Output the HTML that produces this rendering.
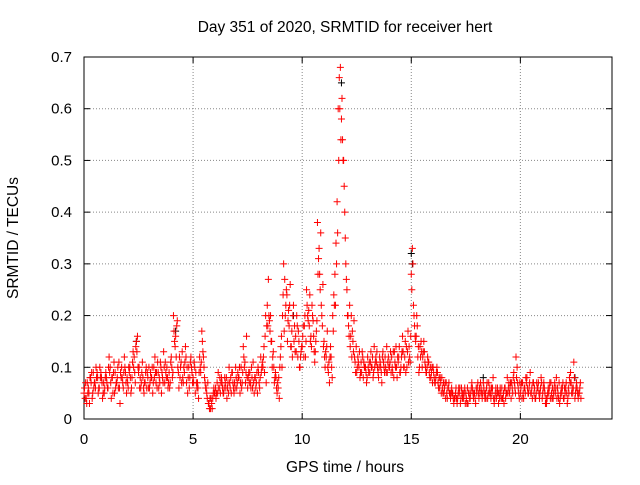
<!DOCTYPE html>
<html><head><meta charset="utf-8"><style>
body{margin:0;background:#fff}
svg{font-family:"Liberation Sans",sans-serif;font-size:15.5px}
.tk{font-size:15px}
</style></head><body>
<svg id="chart" width="640" height="480">
<rect x="84" y="57" width="528" height="362" fill="none" stroke="#000"/>
<g id="grid"></g><g id="ticks" class="tk"></g><g id="marks"></g>
<text x="345" y="32" text-anchor="middle">Day 351 of 2020, SRMTID for receiver hert</text>
<text x="345" y="472" text-anchor="middle">GPS time / hours</text>
<text transform="translate(18,238) rotate(-90)" text-anchor="middle">SRMTID / TECUs</text>
</svg>
<script>
const xTicks=[0,5,10,15,20];
const yTicks=[0,0.1,0.2,0.3,0.4,0.5,0.6,0.7];
const seriesA=[.05,.04,.06,.08,.05,.07,.09,.06,.08,.07,
.09,.06,.1,.08,.05,.07,.11,.08,.06,.09,
.07,.1,.08,.12,.15,.09,.06,.08,.07,.09,
.06,.08,.1,.07,.09,.11,.08,.07,.1,.09,
.12,.2,.16,.1,.08,.13,.09,.07,.1,.12,
.08,.05,.07,.12,.17,.1,.06,.03,.02,.04,
.05,.07,.06,.08,.05,.06,.07,.06,.09,.07,
.06,.08,.1,.14,.07,.06,.09,.08,.05,.07,
.09,.12,.1,.16,.22,.19,.15,.1,.08,.06,
.12,.2,.27,.24,.18,.14,.22,.16,.12,.1,
.14,.18,.25,.21,.16,.19,.13,.38,.28,.2,
.15,.12,.09,.14,.2,.28,.42,.66,.58,.5,
.3,.2,.14,.17,.12,.09,.1,.11,.08,.1,
.12,.09,.1,.14,.11,.08,.1,.13,.12,.09,
.1,.12,.08,.14,.11,.09,.16,.12,.1,.14,
.28,.22,.15,.12,.14,.1,.13,.09,.11,.08,
.1,.07,.09,.06,.08,.05,.07,.06,.04,.05,
.04,.03,.05,.06,.04,.05,.03,.04,.06,.05,
.05,.04,.06,.07,.05,.04,.06,.05,.03,.04,
.03,.05,.04,.06,.08,.05,.07,.09,.12,.06,
.05,.07,.06,.08,.06,.05,.07,.04,.06,.05,
.04,.06,.03,.05,.07,.04,.05,.06,.03,.05,
.04,.07,.06,.09,.05,.04,.06,.05];
const seriesB=[.04,.07,.03,.09,.06,.1,.05,.08,.04,.06,
.07,.12,.04,.09,.06,.1,.03,.08,.12,.05,
.1,.05,.13,.07,.16,.06,.09,.05,.1,.06,
.09,.05,.12,.06,.08,.05,.13,.09,.06,.07,
.08,.15,.18,.06,.11,.07,.14,.05,.08,.09,
.11,.07,.04,.09,.13,.07,.04,.02,.03,.06,
.04,.09,.05,.06,.08,.04,.1,.05,.06,.1,
.09,.05,.07,.1,.16,.09,.06,.11,.08,.05,
.06,.1,.14,.07,.27,.2,.12,.08,.05,.04,
.16,.3,.22,.19,.26,.12,.18,.2,.15,.13,
.18,.12,.2,.24,.22,.13,.17,.31,.36,.26,
.1,.17,.07,.1,.24,.34,.6,.68,.54,.4,
.25,.16,.2,.13,.09,.12,.08,.13,.1,.07,
.09,.13,.08,.11,.1,.12,.07,.1,.09,.12,
.13,.09,.11,.08,.14,.12,.1,.09,.17,.11,
.33,.18,.2,.09,.15,.13,.1,.12,.08,.1,
.08,.09,.06,.07,.05,.07,.04,.05,.06,.03,
.06,.05,.03,.04,.06,.03,.05,.06,.04,.03,
.07,.05,.04,.05,.06,.07,.04,.08,.05,.06,
.04,.06,.03,.05,.06,.07,.05,.06,.1,.04,
.07,.04,.08,.05,.09,.04,.06,.07,.05,.08,
.06,.03,.05,.07,.04,.06,.08,.04,.05,.07,
.05,.03,.08,.05,.11,.06,.04,.07];
const seriesC=[.06,.03,.05,.07,.09,.06,.08,.1,.07,.05,
.08,.1,.07,.05,.09,.08,.06,.1,.09,.07,
.06,.08,.11,.09,.13,.1,.07,.06,.09,.08,
.07,.1,.08,.09,.06,.1,.07,.11,.08,.06,
.1,.17,.12,.09,.1,.08,.11,.1,.06,.1,
.07,.09,.06,.1,.15,.08,.05,.03,.04,.05,
.06,.05,.08,.07,.06,.08,.05,.08,.07,.06,
.07,.1,.06,.12,.09,.08,.07,.06,.08,.09,
.07,.09,.12,.2,.18,.17,.1,.07,.06,.08,
.14,.24,.2,.15,.22,.17,.15,.13,.17,.12,
.16,.2,.22,.18,.14,.16,.15,.28,.25,.18,
.12,.14,.11,.12,.17,.22,.36,.6,.62,.45,
.27,.18,.16,.15,.11,.1,.13,.09,.11,.09,
.1,.11,.12,.1,.13,.1,.09,.11,.1,.11,
.11,.1,.13,.1,.12,.1,.13,.15,.13,.12,
.25,.2,.16,.14,.12,.12,.11,.1,.09,.09,
.09,.08,.07,.08,.06,.06,.05,.07,.05,.04,
.05,.04,.06,.05,.05,.04,.05,.05,.05,.04,
.06,.06,.05,.06,.04,.05,.05,.06,.04,.05,
.05,.04,.05,.04,.05,.06,.06,.07,.08,.05,
.06,.05,.05,.06,.07,.06,.05,.05,.07,.06,
.05,.05,.04,.06,.05,.05,.06,.05,.04,.06,
.06,.05,.05,.07,.06,.05,.05,.06];
const seriesD=[.07,.05,.08,.04,.07,.08,.06,.09,.05,.08,
.06,.09,.08,.11,.07,.06,.09,.07,.1,.08,
.09,.06,.1,.14,.1,.08,.11,.07,.06,.1,
.08,.07,.09,.11,.07,.09,.1,.08,.07,.11,
.09,.14,.19,.12,.07,.1,.12,.08,.11,.07,
.1,.06,.09,.11,.12,.06,.07,.04,.02,.05,
.05,.06,.07,.05,.07,.06,.07,.09,.05,.08,
.08,.07,.09,.11,.08,.07,.1,.07,.06,.1,
.08,.11,.09,.18,.2,.15,.13,.09,.07,.1,
.1,.17,.25,.21,.14,.2,.13,.18,.1,.14,
.12,.15,.19,.15,.2,.11,.19,.33,.22,.14,
.13,.1,.12,.08,.22,.3,.5,.54,.5,.35,
.2,.22,.12,.19,.14,.11,.09,.12,.1,.08,
.11,.1,.09,.12,.09,.11,.12,.09,.14,.1,
.09,.13,.1,.12,.09,.13,.1,.14,.11,.16,
.3,.16,.18,.1,.13,.15,.09,.11,.1,.07,
.07,.1,.08,.05,.07,.04,.06,.05,.05,.04,
.04,.06,.04,.05,.03,.06,.04,.07,.05,.06,
.05,.07,.05,.04,.07,.05,.06,.04,.06,.05,
.06,.04,.06,.05,.07,.04,.08,.05,.07,.07,
.04,.06,.07,.05,.05,.07,.04,.06,.04,.07,
.07,.04,.06,.04,.06,.07,.04,.07,.06,.04,
.06,.04,.07,.06,.08,.07,.05,.04];
const blackTimes=[2.4,4.2,9.6,11.8,15.0,15.05,18.3,22.5];
const blackValues=[.15,.17,.2,.65,.32,.3,.08,.08];
const X=t=>84+t*(528/24.2), Y=v=>419-v*(362/0.7);
const NS='http://www.w3.org/2000/svg';
const grid=document.getElementById('grid'),ticks=document.getElementById('ticks'),marks=document.getElementById('marks');
function el(tag,attrs,parent){const e=document.createElementNS(NS,tag);for(const k in attrs)e.setAttribute(k,attrs[k]);parent.appendChild(e);return e;}
xTicks.forEach(t=>{const x=X(t);
 if(t>0){const g=el('line',{x1:x,x2:x,y1:57,y2:419,stroke:'#888','stroke-dasharray':'1,2'},grid);
 
 }
 el('line',{x1:x,x2:x,y1:419,y2:413,stroke:'#000'},ticks);el('line',{x1:x,x2:x,y1:57,y2:63,stroke:'#000'},ticks);
 const l=el('text',{x:x,y:444,'text-anchor':'middle'},ticks);l.textContent=t;
 
 });
yTicks.forEach(v=>{const y=Y(v);
 if(v>0&&v<0.7){const g=el('line',{x1:84,x2:612,y1:y,y2:y,stroke:'#888','stroke-dasharray':'1,2'},grid);
 
 }
 el('line',{x1:84,x2:90,y1:y,y2:y,stroke:'#000'},ticks);el('line',{x1:612,x2:606,y1:y,y2:y,stroke:'#000'},ticks);
 const l=el('text',{x:72,y:y+5,'text-anchor':'end'},ticks);l.textContent=String(+v.toFixed(1));
 
 });
function plus(t,v,c,name){const x=X(t),y=Y(v);
 const p=el('path',{d:`M${x-3.5},${y}h7M${x},${y-3.5}v7`,stroke:c,'stroke-width':1,fill:'none'},marks);
 
 }
blackTimes.forEach((t,i)=>plus(t,blackValues[i],'#000','black-point'));
seriesA.forEach((v,i)=>plus(i*0.1,v,'#f00','srmtid-point'));
seriesB.forEach((v,i)=>plus(i*0.1+0.05,v,'#f00','srmtid-point'));
seriesC.forEach((v,i)=>plus(i*0.1+0.025,v,'#f00','srmtid-point'));
seriesD.forEach((v,i)=>plus(i*0.1+0.075,v,'#f00','srmtid-point'));
</script>
</body></html>
